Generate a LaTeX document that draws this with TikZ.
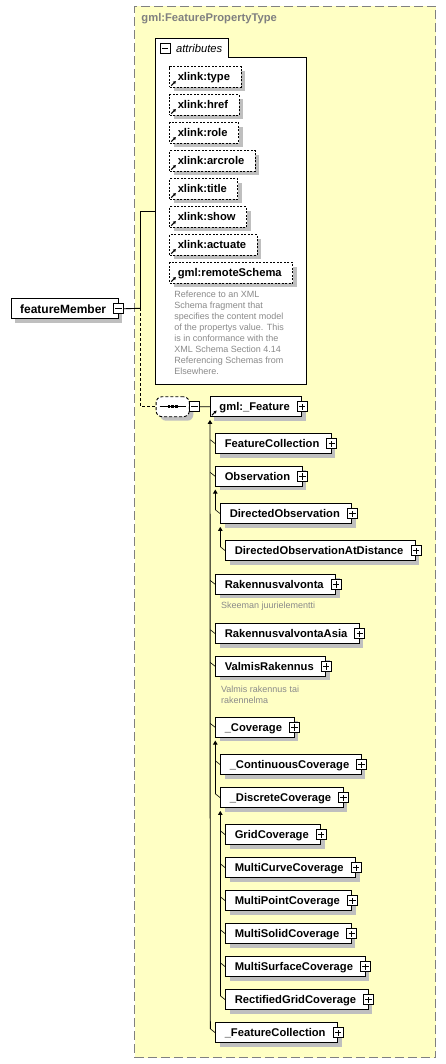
\documentclass[tikz,border=0pt]{standalone}
\usepackage{fontspec}
\setmainfont{Liberation Sans}
\usetikzlibrary{arrows.meta,positioning,shadows}
\definecolor{TypeYellow}{HTML}{FFFFC4}
\definecolor{FrameGray}{HTML}{808080}
\definecolor{ShadeGray}{HTML}{BFBFBF}
\definecolor{NoteGray}{HTML}{8A8A8A}
\newcommand{\labelsize}{\fontsize{11.2}{13}\selectfont}

\begin{document}
\begin{tikzpicture}[x=1pt, y=-1pt, font=\labelsize, >=Latex, line width=0.9pt]
\tikzset{
  shade/.style={general shadow={fill=ShadeGray, shadow xshift=4pt, shadow yshift=-4pt}},
  typebox/.style={draw=FrameGray, fill=TypeYellow, line width=1pt, dash pattern=on 9pt off 4pt, anchor=north west, inner sep=0pt, minimum width=301pt, minimum height=1051.3pt},
  elem/.style={draw, fill=white, shade, font=\labelsize\bfseries, anchor=north west, minimum height=20pt, inner xsep=9pt, inner ysep=0pt, text height=8pt, text depth=0pt, execute at end node={\hspace{3pt}}},
  attr/.style={elem, linked, dash pattern=on 2pt off 1.5pt, minimum height=20.4pt, inner xsep=8pt, execute at end node={}},
  linked/.style={path picture={\draw[solid, line width=1pt, -{Triangle[length=2.6pt,width=3pt]}] ([xshift=1.5pt,yshift=1.5pt]path picture bounding box.south west) -- ++(4.6pt,4.6pt);}},
  toggle/.style={draw, fill=white, line width=0.7pt, minimum size=10pt, inner sep=0pt},
  minusbox/.style={toggle, path picture={\draw[line width=0.7pt] ([xshift=1.8pt]path picture bounding box.west) -- ([xshift=-1.8pt]path picture bounding box.east);}},
  plusbox/.style={toggle, path picture={\draw[line width=0.7pt] ([xshift=1.8pt]path picture bounding box.west) -- ([xshift=-1.8pt]path picture bounding box.east) ([yshift=1.8pt]path picture bounding box.south) -- ([yshift=-1.8pt]path picture bounding box.north);}},
  seqbox/.style={draw, fill=white, shade, dash pattern=on 3pt off 2pt, rounded corners=6pt, minimum width=33.3pt, minimum height=20pt, inner sep=0pt},
  note/.style={text=NoteGray, font=\fontsize{9}{11}\selectfont, align=left, inner sep=0pt},
  trunk/.style={arrows={Triangle[length=4pt,width=4.5pt]-}},
  branch/.style={line width=0.6pt},
}
\fill[white] (0,0) rectangle (446,1064);
\useasboundingbox (0,0) rectangle (446,1064);

% complex type frame
\node[typebox] (ftype) at (134.3,5.7) {};
\node[anchor=west, inner sep=0pt, font=\labelsize\bfseries, text=FrameGray] (ftypename) at (141,19) {gml:FeaturePropertyType};

% attribute group
\node[anchor=north west, inner sep=0pt, minimum width=150pt, minimum height=326pt] (attrs) at (155.3,57.3) {};
\draw[fill=white] (attrs.north west) -- ++(0,-19) -- ++(73.4,0) -- ++(0,19) -- (attrs.north east) -- (attrs.south east) -- (attrs.south west) -- cycle;
\node[minusbox, minimum size=9.5pt] (attrminus) at (165.3,48.5) {};
\node[anchor=west, inner sep=0pt, font=\labelsize\itshape] (attrlabel) at (175.7,48.5) {attributes};
\foreach \a [count=\i] in {xlink:type,xlink:href,xlink:role,xlink:arcrole,xlink:title,xlink:show,xlink:actuate,gml:remoteSchema}
  \node[attr] (attr\i) at ({169.3},{38.3+28*\i}) {\a};
\node[note, anchor=north west] (attrnote) at (174,290.5) {Reference to an XML\\Schema fragment that\\specifies the content model\\of the propertys value. This\\is in conformance with the\\XML Schema Section 4.14\\Referencing Schemas from\\Elsewhere.};

% root element and sequence
\node[elem, font=\bfseries\fontsize{12}{14}\selectfont, text height=8.6pt] (member) at (10.7,298.3) {featureMember};
\node[minusbox] (memberminus) at (member.east) {};
\coordinate (split) at (140.7,308.3);
\coordinate (attrjoin) at (155.3,211);
\node[seqbox] (seq) at (172.7,406.7) {};
\draw[line width=1pt] ([xshift=4pt]seq.west) -- ([xshift=-3.6pt]seq.east);
\foreach \dx in {-3.7,0,3.7}
  \fill ([xshift=\dx pt]seq.center) ++(-1.3pt,-1.3pt) rectangle ++(2.6pt,2.6pt);
\node[minusbox] (seqminus) at (194.3,406.7) {};

% substitution group of gml:_Feature
\node[elem, linked] (feature) at (210,396.3) {gml:\_Feature};
\node[elem] (fc) at (215.3,433.3) {FeatureCollection};
\node[elem] (obs) at (215.3,466) {Observation};
\node[elem] (dirobs) at (220.3,503.3) {DirectedObservation};
\node[elem] (dirobsdist) at (225.3,540.3) {DirectedObservationAtDistance};
\node[elem] (rv) at (215.3,574) {Rakennusvalvonta};
\node[note, anchor=base west] (rvnote) at (220.7,608.5) {Skeeman juurielementti};
\node[elem] (rva) at (215.3,623.3) {RakennusvalvontaAsia};
\node[elem] (vr) at (215.3,656) {ValmisRakennus};
\node[note, anchor=north west] (vrnote) at (220.7,685.4) {Valmis rakennus tai\\rakennelma};
\node[elem] (cov) at (215.3,717) {\_Coverage};
\node[elem] (contcov) at (220.3,754.3) {\_ContinuousCoverage};
\node[elem] (disccov) at (220.3,787.3) {\_DiscreteCoverage};
\node[elem] (grid) at (225.3,824.3) {GridCoverage};
\node[elem] (mcurve) at (225.3,857.3) {MultiCurveCoverage};
\node[elem] (mpoint) at (225.3,890.3) {MultiPointCoverage};
\node[elem] (msolid) at (225.3,923.3) {MultiSolidCoverage};
\node[elem] (msurf) at (225.3,956.3) {MultiSurfaceCoverage};
\node[elem] (rgrid) at (225.3,989.3) {RectifiedGridCoverage};
\node[elem] (featcoll) at (215.3,1022.3) {\_FeatureCollection};
\foreach \n in {feature,fc,obs,dirobs,dirobsdist,rv,rva,vr,cov,contcov,disccov,grid,mcurve,mpoint,msolid,msurf,rgrid,featcoll}
  \node[plusbox] (\n-plus) at (\n.east) {};

% connectors
\draw (memberminus.east) -- (split);
\draw (split) |- (attrjoin);
\draw[dash pattern=on 3pt off 2pt] (split) |- (seq.west);
\draw (seqminus.east) -- (feature.west);
\draw[trunk] ([yshift=-2.7pt]feature.south west) -- ([xshift=-5pt,yshift=4pt]featcoll.west);
\draw[trunk] ([yshift=-2.7pt]obs.south west) -- ([xshift=-5pt,yshift=4pt]dirobs.west);
\draw[trunk] ([yshift=-2.7pt]dirobs.south west) -- ([xshift=-5pt,yshift=4pt]dirobsdist.west);
\draw[trunk] ([yshift=-2.7pt]cov.south west) -- ([xshift=-5pt,yshift=4pt]disccov.west);
\draw[trunk] ([yshift=-2.7pt]disccov.south west) -- ([xshift=-5pt,yshift=4pt]rgrid.west);
\foreach \n in {fc,obs,dirobs,dirobsdist,rv,rva,vr,cov,contcov,disccov,grid,mcurve,mpoint,msolid,msurf,rgrid,featcoll}
  \draw[branch] ([xshift=-5pt,yshift=4pt]\n.west) -- (\n.west);
\end{tikzpicture}
\end{document}
